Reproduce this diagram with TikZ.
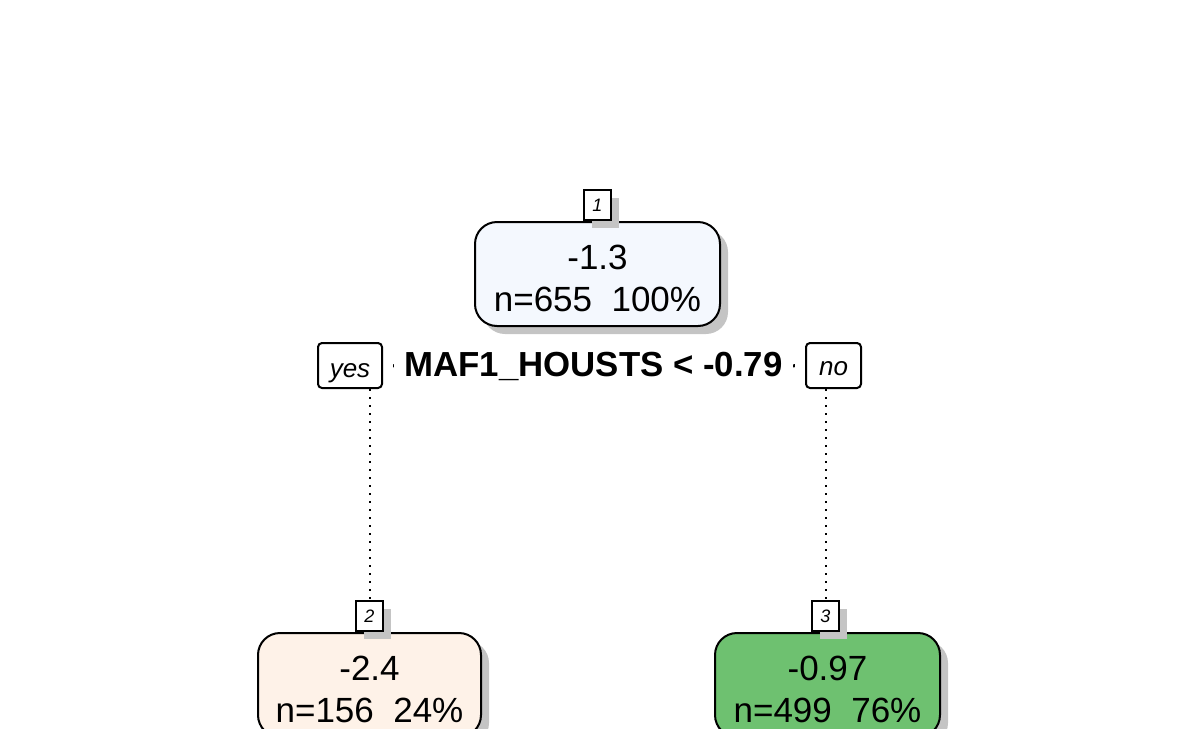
\documentclass[tikz,border=0pt]{standalone}
\usepackage{fontspec}
\setmainfont{Liberation Sans}
\usetikzlibrary{shadows}
\definecolor{bluefill}{HTML}{F4F8FE}
\definecolor{peachfill}{HTML}{FEF2E8}
\definecolor{greenfill}{HTML}{6EC170}
\definecolor{shadowgray}{HTML}{C4C4C4}
\newcommand{\dn}[2]{\raisebox{-#1}[\height][\depth]{#2}}
\begin{document}
\begin{tikzpicture}[x=0.5pt,y=-0.5pt,
  shd/.style={drop shadow={shadow xshift=4pt,shadow yshift=-4pt,fill=shadowgray,opacity=1}},
  leaf/.style={shd,draw=black,line width=1pt,rounded corners=11pt,inner sep=0pt,
    align=center,font=\fontsize{17.5}{21.5}\selectfont,minimum height=52pt},
  numbox/.style={shd,draw=black,line width=1pt,fill=white,inner sep=0pt,
    minimum width=13.5pt,minimum height=15pt,font=\fontsize{9}{10}\selectfont\itshape},
  ansbox/.style={draw=black,line width=1pt,fill=white,rounded corners=2pt,inner sep=0pt,
    minimum height=22.5pt,font=\fontsize{13}{14}\selectfont\itshape},
  conn/.style={line width=1pt,dash pattern=on 1pt off 3pt},
  tick/.style={line width=1.5pt,shorten <=5.1pt,shorten >=5.1pt},
]
\useasboundingbox (0,0) rectangle (1196,729);
\clip (0,0) rectangle (1196,729);
% root
\node[leaf,fill=bluefill,minimum width=122.5pt] (n1) at (597.5,274) {\dn{2.5pt}{-1.3}\\\dn{2pt}{n=655\ \ 100\%}};
\node[numbox,anchor=south] (l1) at (n1.north) {1};
% split
\node[font=\fontsize{17.4}{18}\bfseries,inner sep=0pt] (split) at (593.5,366) {MAF1\_HOUSTS < -0.79};
\node[ansbox,minimum width=32pt] (yes) at (350,365.5) {\dn{4pt}{yes}};
\node[ansbox,minimum width=27.5pt] (no) at (833.5,365.5) {\dn{1.5pt}{no}};
\draw[tick] (yes.east) -- (split.west);
\draw[tick] (split.east) -- (no.west);
% leaves
\node[leaf,fill=peachfill,minimum width=111.5pt] (n2) at (369.5,685) {\dn{2.5pt}{-2.4}\\\dn{2pt}{n=156\ \ 24\%}};
\node[numbox,anchor=south] (l2) at (n2.north) {2};
\node[leaf,fill=greenfill,minimum width=112.5pt] (n3) at (827.5,685) {\dn{2.5pt}{-0.97}\\\dn{2pt}{n=499\ \ 76\%}};
\node[numbox,anchor=south] (l3) at ([xshift=-1pt]n3.north) {3};
\draw[conn] (yes.south -| l2) -- (l2.north);
\draw[conn] (no.south -| l3) -- (l3.north);
\end{tikzpicture}
\end{document}
